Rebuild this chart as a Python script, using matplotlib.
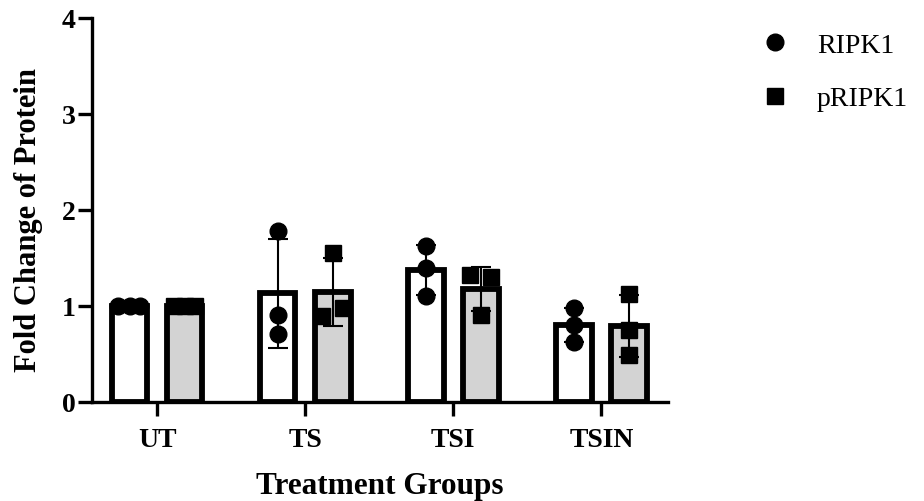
import matplotlib
matplotlib.use("Agg")
from matplotlib import pyplot as plt
import numpy as np

groups = ["UT", "TS", "TSI", "TSIN"]
ripk1 = [[1.0, 1.0, 1.0], [1.78, 0.91, 0.71], [1.62, 1.40, 1.10], [0.98, 0.80, 0.63]]
pripk1 = [[1.0, 1.0, 1.0], [1.55, 0.98, 0.90], [1.32, 1.30, 0.91], [1.13, 0.75, 0.49]]

# horizontal scatter of the replicate points, in group-spacing units
jit_r = [[-0.08, 0.0, 0.07], [0.0, 0.0, 0.0], [0.0, 0.0, 0.0], [0.0, 0.0, 0.0]]
jit_p = [[-0.07, 0.0, 0.07], [0.0, 0.07, -0.07], [-0.07, 0.07, 0.0], [0.0, 0.0, 0.0]]

plt.rcParams["font.family"] = ["Liberation Serif", "DejaVu Serif"]

fig = plt.figure(figsize=(9.24, 5.02), dpi=100)
ax = fig.add_axes([92/924, 99/502, 576/924, 384/502])

x = np.arange(len(groups))
off = 0.186
w = 0.24

for vals, jit, dx, face, mk, lab in [(ripk1, jit_r, -off, "white", "o", "RIPK1"),
                                     (pripk1, jit_p, off, "#d3d3d3", "s", "pRIPK1")]:
    vals = np.array(vals)
    means = vals.mean(axis=1)
    sds = vals.std(axis=1, ddof=1)
    ax.bar(x + dx, means, width=w, color=face, edgecolor="black", linewidth=4.2, zorder=2)
    ax.errorbar(x + dx, means, yerr=sds, fmt="none", ecolor="black", elinewidth=1.5,
                capsize=7, capthick=1.5, zorder=3)
    for i in range(len(groups)):
        ax.plot(x[i] + dx + np.array(jit[i]), vals[i], linestyle="none", marker=mk,
                color="black", markersize=12, zorder=4, label=lab if i == 0 else None)

ax.set_xlim(-0.44, 3.45)
ax.set_ylim(0, 4)
ax.set_yticks([0, 1, 2, 3, 4])
ax.set_xticks(x)
ax.set_xticklabels(groups)
for s in ["top", "right"]:
    ax.spines[s].set_visible(False)
for s in ["left", "bottom"]:
    ax.spines[s].set_linewidth(2.4)
ax.tick_params(axis="both", width=2.4, length=10, labelsize=20)
ax.tick_params(axis="x", pad=8)
ax.tick_params(axis="y", pad=2)
for t in ax.get_xticklabels() + ax.get_yticklabels():
    t.set_fontweight("bold")

ax.set_xlabel("Treatment Groups", fontsize=22.5, fontweight="bold", labelpad=14)
ax.set_ylabel("Fold Change of Protein", fontsize=22, fontweight="bold")
ax.yaxis.set_label_coords(-0.085, 0.477)

ax.legend(loc="upper left", bbox_to_anchor=(1.113, 1.027), frameon=False, fontsize=20,
          handlelength=1.2, handletextpad=0.92, labelspacing=1.0)

fig.savefig("out.png", dpi=100)
